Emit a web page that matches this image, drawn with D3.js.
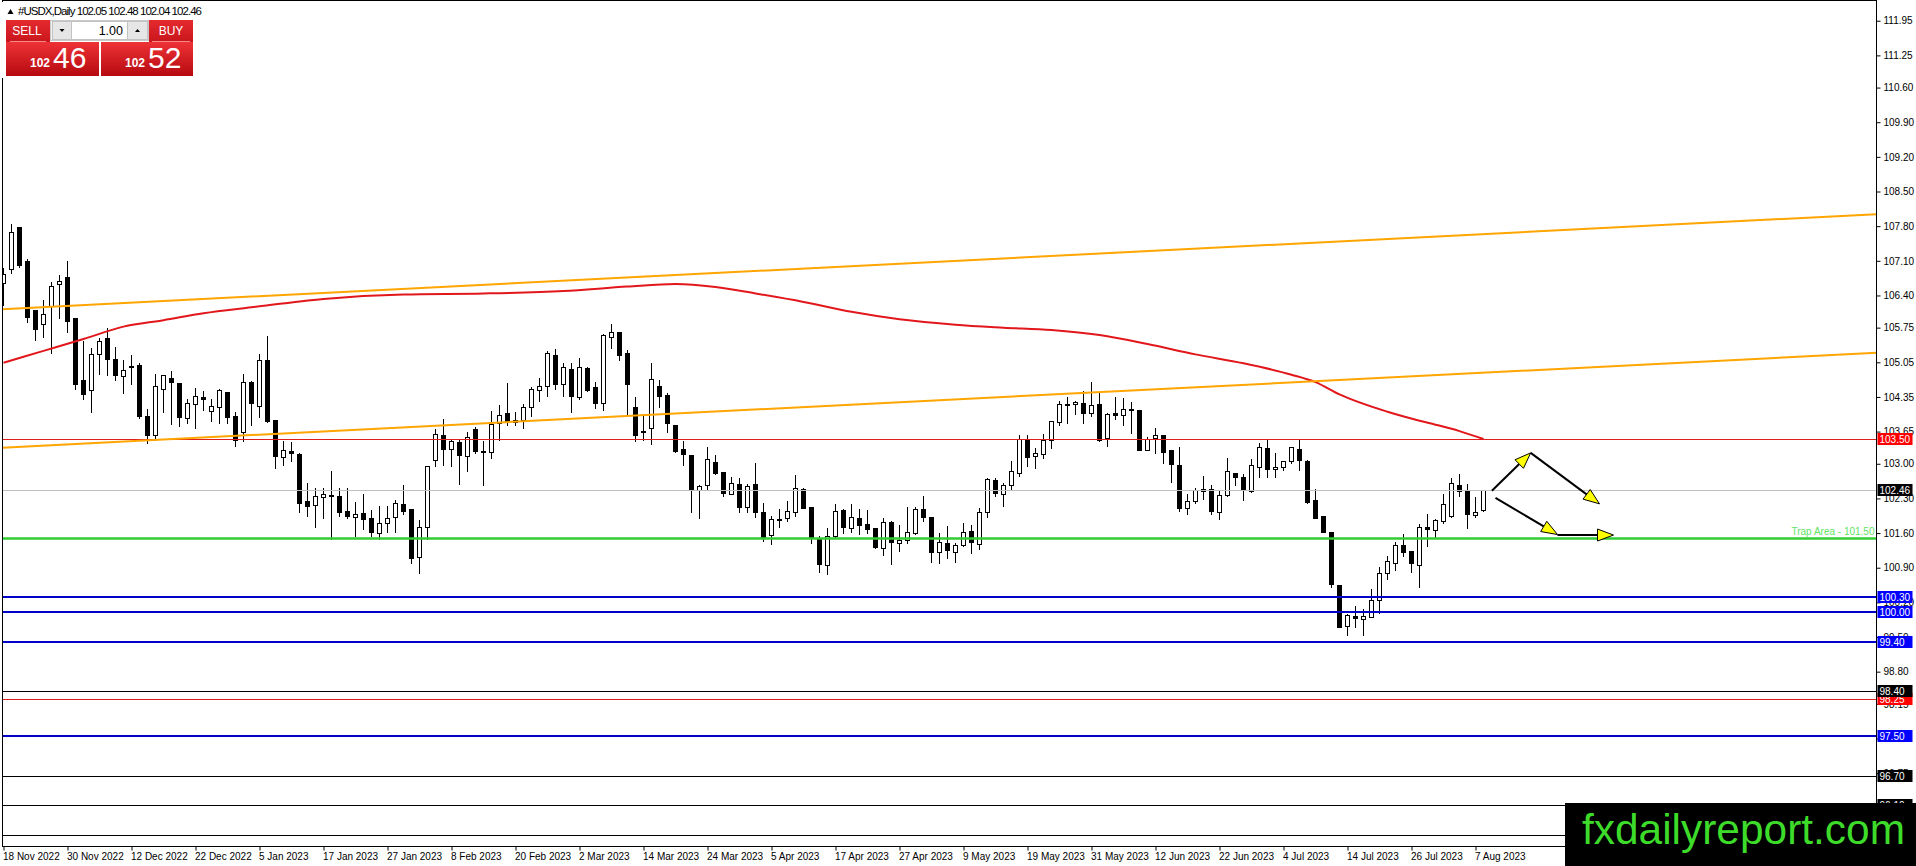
<!DOCTYPE html>
<html lang="en">
<head>
<meta charset="UTF-8">
<title>#USDX,Daily</title>
<script src="https://d3js.org/d3.v7.min.js"></script>
<style>
  body { margin: 0; background: #fff; overflow: hidden; }
  svg { display: block; font-family: "Liberation Sans", Arial, sans-serif; }
  .axis text { font-size: 10px; fill: #000; }
  .axis line, .axis path { stroke: #000; }
  .tag text { font-size: 10px; fill: #fff; }
</style>
</head>
<body>
<svg id="chart" width="1916" height="866"></svg>
<script>
// daily bars, [open, high, low, close], first bar = 18 Nov 2022
const ohlc = [
  [106.65,106.98,106.21,106.83],[106.93,107.86,106.85,107.68],[107.79,107.80,106.98,107.02],[107.10,107.15,105.87,105.97],
  [106.11,106.12,105.51,105.72],[105.82,106.32,105.57,106.02],[106.19,106.69,105.23,106.59],[106.62,106.83,105.95,106.69],
  [106.77,107.12,105.67,105.89],[105.94,105.95,104.52,104.60],[104.69,105.50,104.30,104.40],[104.48,105.35,104.04,105.21],
  [105.23,105.57,104.81,105.49],[105.54,105.76,104.79,105.11],[105.11,105.37,104.69,104.79],[104.77,105.11,104.42,104.89],
  [104.97,105.21,104.62,104.98],[104.99,105.06,103.92,103.95],[103.96,104.13,103.41,103.57],[103.59,104.84,103.48,104.57],
  [104.52,104.81,104.04,104.80],[104.73,104.89,103.80,104.65],[104.63,104.64,103.76,103.94],[103.92,104.32,103.82,104.22],
  [104.20,104.56,103.72,104.36],[104.34,104.50,104.09,104.30],[104.07,104.32,103.86,104.17],[104.14,104.54,103.82,104.49],
  [104.44,104.45,103.82,103.94],[103.96,104.07,103.36,103.47],[103.63,104.83,103.45,104.65],[104.65,104.69,103.78,104.22],
  [104.17,105.23,103.95,105.10],[105.10,105.60,103.85,103.87],[103.88,103.90,102.91,103.16],[103.14,103.47,102.98,103.28],
  [103.25,103.45,103.06,103.21],[103.20,103.24,102.03,102.21],[102.24,102.63,101.94,102.13],[102.16,102.54,101.73,102.35],
  [102.32,102.54,101.91,102.38],[102.37,102.87,101.49,102.34],[102.35,102.54,101.95,102.03],[102.05,102.54,101.91,101.95],
  [101.92,102.25,101.55,101.99],[102.01,102.40,101.68,101.88],[101.90,102.08,101.55,101.61],[101.59,102.16,101.47,101.80],
  [101.80,102.16,101.63,101.90],[101.92,102.28,101.63,102.21],[102.19,102.59,101.99,102.05],[102.08,102.09,101.00,101.10],
  [101.11,101.88,100.79,101.72],[101.72,102.98,101.49,102.96],[103.08,103.73,102.96,103.61],[103.59,103.92,102.98,103.31],
  [103.29,103.51,102.96,103.46],[103.43,103.51,102.60,103.16],[103.16,103.66,102.86,103.55],[103.70,103.76,103.21,103.26],
  [103.25,103.48,102.57,103.22],[103.23,104.09,103.12,103.80],[103.82,104.21,103.49,103.98],[104.02,104.66,103.78,103.85],
  [103.88,104.07,103.78,103.84],[103.88,104.23,103.73,104.15],[104.14,104.57,103.97,104.51],[104.49,104.75,104.27,104.58],
  [104.57,105.30,104.37,105.23],[105.20,105.33,104.51,104.61],[104.60,105.05,104.37,104.95],[104.91,105.05,104.05,104.36],
  [104.34,105.15,104.31,104.95],[104.93,104.98,104.46,104.49],[104.56,104.67,104.12,104.23],[104.23,105.64,104.09,105.60],
  [105.57,105.84,105.33,105.67],[105.66,105.67,105.10,105.20],[105.23,105.31,103.99,104.60],[104.15,104.36,103.45,103.58],
  [103.66,104.02,103.48,103.63],[103.72,105.06,103.40,104.71],[104.58,104.71,104.15,104.38],[104.39,104.44,103.65,103.82],
  [103.78,103.79,103.24,103.26],[103.29,103.48,102.98,103.19],[103.18,103.18,102.03,102.50],[102.47,102.60,101.90,102.56],
  [102.56,103.35,102.47,103.09],[103.03,103.19,102.80,102.81],[102.83,102.83,102.34,102.40],[102.40,102.76,102.38,102.62],
  [102.60,102.74,102.03,102.13],[102.13,102.62,102.03,102.56],[102.60,103.04,101.93,102.03],[102.02,102.23,101.43,101.51],
  [101.55,101.97,101.38,101.88],[101.88,102.10,101.73,101.85],[101.90,102.27,101.85,102.05],[102.03,102.79,101.95,102.52],
  [102.50,102.54,102.10,102.12],[102.12,102.12,101.39,101.51],[101.48,101.56,100.82,100.97],[100.97,101.73,100.77,101.55],
  [101.55,102.20,101.53,102.05],[102.07,102.11,101.61,101.72],[101.70,102.20,101.63,101.92],[101.90,102.11,101.59,101.75],
  [101.78,102.08,101.61,101.68],[101.70,101.72,101.29,101.31],[101.29,101.93,101.16,101.82],[101.82,101.86,100.97,101.41],
  [101.39,101.78,101.24,101.45],[101.46,102.15,101.39,101.63],[101.61,102.15,101.59,102.09],[102.09,102.37,101.85,101.92],
  [101.92,101.93,101.02,101.22],[101.21,101.62,100.99,101.42],[101.39,101.76,101.09,101.24],[101.22,101.41,101.01,101.36],
  [101.35,101.82,101.33,101.62],[101.64,101.78,101.19,101.41],[101.39,102.13,101.27,102.03],[102.03,102.73,101.92,102.69],
  [102.67,102.73,102.34,102.40],[102.40,102.64,102.15,102.58],[102.56,103.08,102.49,102.85],[102.82,103.60,102.76,103.51],
  [103.51,103.60,102.96,103.14],[103.14,103.33,102.92,103.21],[103.21,103.63,103.12,103.49],[103.49,103.88,103.31,103.87],
  [103.85,104.29,103.78,104.21],[104.21,104.37,103.82,104.18],[104.20,104.29,104.00,104.25],[104.23,104.50,103.83,104.02],
  [104.02,104.68,103.97,104.19],[104.21,104.48,103.46,103.49],[103.53,104.05,103.35,104.01],[104.03,104.37,103.90,103.99],
  [103.97,104.34,103.78,104.10],[104.10,104.27,103.63,104.09],[104.09,104.11,103.27,103.28],[103.28,103.56,103.27,103.51],
  [103.53,103.74,103.21,103.59],[103.59,103.60,103.01,103.24],[103.28,103.28,102.63,102.99],[102.98,103.36,102.05,102.12],
  [102.10,102.40,101.98,102.25],[102.25,102.54,102.21,102.47],[102.45,102.77,102.28,102.50],[102.50,102.60,101.99,102.06],
  [102.03,102.46,101.88,102.37],[102.37,103.14,102.34,102.85],[102.82,102.83,102.57,102.74],[102.74,102.81,102.27,102.47],
  [102.45,103.11,102.42,102.98],[102.92,103.43,102.74,103.33],[103.31,103.51,102.73,102.89],[102.89,103.23,102.73,102.94],
  [102.93,103.07,102.87,103.06],[103.04,103.36,103.01,103.33],[103.29,103.53,102.87,103.06],[103.05,103.09,102.20,102.23],
  [102.27,102.52,101.90,101.91],[101.95,101.96,101.62,101.63],[101.62,101.64,100.52,100.56],[100.55,100.58,99.70,99.71],
  [99.73,99.99,99.54,99.95],[99.92,100.15,99.71,99.88],[99.86,100.08,99.54,99.92],[99.91,100.50,99.90,100.25],
  [100.26,100.94,99.99,100.80],[100.79,101.16,100.67,101.04],[101.00,101.43,100.85,101.36],[101.36,101.61,101.14,101.22],
  [101.24,101.24,100.82,100.99],[100.97,101.81,100.52,101.73],[101.72,102.00,101.33,101.68],[101.66,101.90,101.53,101.86],
  [101.83,102.40,101.81,102.18],[101.95,102.74,101.93,102.61],[102.58,102.82,102.35,102.45],[102.45,102.61,101.71,101.98],
  [101.97,102.34,101.93,102.03],[102.05,102.48,102.04,102.46]
];

// one date label every 8 bars
const dateLabels = ["18 Nov 2022","30 Nov 2022","12 Dec 2022","22 Dec 2022","5 Jan 2023","17 Jan 2023","27 Jan 2023",
  "8 Feb 2023","20 Feb 2023","2 Mar 2023","14 Mar 2023","24 Mar 2023","5 Apr 2023","17 Apr 2023","27 Apr 2023",
  "9 May 2023","19 May 2023","31 May 2023","12 Jun 2023","22 Jun 2023","4 Jul 2023","14 Jul 2023","26 Jul 2023","7 Aug 2023"];
const barsPerLabel = 8;

const priceTicks = [111.95,111.25,110.60,109.90,109.20,108.50,107.80,107.10,106.40,105.75,105.05,104.35,103.65,
  103.00,102.30,101.60,100.90,100.20,99.50,98.80,98.15,97.45,96.75,96.10];
const priceRange = [95.278, 112.369];

// moving average, [bar, value]
const maPoints = [[0,105.04],[5,105.28],[10,105.52],[15,105.77],[20,105.90],[25,106.04],[31,106.16],[40,106.33],
  [50,106.42],[60,106.44],[70,106.49],[78,106.58],[84,106.63],[89,106.57],[94,106.44],[100,106.27],[106,106.07],
  [112,105.92],[119,105.81],[125,105.75],[131,105.70],[137,105.60],[143,105.42],[149,105.21],[155,105.03],
  [161,104.80],[164,104.65],[167,104.40],[173,104.05],[177,103.87],[179,103.79],[182,103.66],[185,103.50]];

// channel lines, two anchor points [bar, price]
const upperTrend = [[0,106.125],[185,107.64]];
const lowerTrend = [[0,103.326],[185,104.84]];

const redLevels = [103.50, 98.25];
const blueLevels = [100.30, 100.00, 99.40, 97.50];
const blackLevels = [98.40, 96.70, 96.10, 95.50];
const trapLevel = 101.50;
const trapText = "Trap Area - 101.50";
const bidPrice = 102.46;
const askPrice = 102.52;
const lotSize = "1.00";
const symbolName = "#USDX,Daily";

// projection arrows, [bar, price] from -> to
const arrows = [
  [[186.05,102.456],[190.9,103.22]],
  [[190.9,103.22],[199.5,102.19]],
  [[186.5,102.31],[194.25,101.57]],
  [[194.25,101.56],[201.25,101.56]]
];

const watermark = "fxdailyreport.com";

// ---------------------------------------------------------------
const W = 1916, H = 866;
const plot = {left: 2.5, top: 0.5, right: 1876.5, bottom: 846.5};
const barStep = 8;

const svg = d3.select("#chart");

const x = d3.scaleLinear()
  .domain([0, ohlc.length - 1])
  .range([3.5, 3.5 + barStep * (ohlc.length - 1)]);
const y = d3.scaleLinear().domain(priceRange).range([846, 0]);

svg.append("rect").attr("width", W).attr("height", H).attr("fill", "#fff");

svg.append("defs").append("clipPath").attr("id", "plotClip")
  .append("rect")
  .attr("x", plot.left).attr("y", plot.top)
  .attr("width", plot.right - plot.left).attr("height", plot.bottom - plot.top);

const g = svg.append("g").attr("clip-path", "url(#plotClip)");

// candles
const bars = g.append("g").attr("shape-rendering", "crispEdges");
bars.selectAll("line")
  .data(ohlc)
  .join("line")
  .attr("x1", (d, i) => x(i)).attr("x2", (d, i) => x(i))
  .attr("y1", d => Math.round(y(d[1])) + 0.5)
  .attr("y2", d => Math.round(y(d[2])) + 0.5)
  .attr("stroke", "#000");

bars.selectAll("rect")
  .data(ohlc)
  .join("rect")
  .attr("x", (d, i) => x(i) - 2)
  .attr("width", 4)
  .attr("y", d => Math.round(y(Math.max(d[0], d[3]))) + 0.5)
  .attr("height", d => Math.max(1, Math.round(Math.abs(y(d[0]) - y(d[3])))))
  .attr("fill", d => d[3] >= d[0] ? "#fff" : "#000")
  .attr("stroke", "#000");

// horizontal levels
function hLine(price, color, width) {
  const yy = Math.round(y(price)) + (width % 2 ? 0.5 : 0);
  g.append("line")
    .attr("x1", plot.left).attr("x2", plot.right)
    .attr("y1", yy).attr("y2", yy)
    .attr("stroke", color).attr("stroke-width", width);
}
hLine(bidPrice, "#c0c0c0", 1);
blackLevels.forEach(p => hLine(p, "#000", 1));
redLevels.forEach(p => hLine(p, "#e01e1e", 1));
blueLevels.forEach(p => hLine(p, "#0000c8", 2));
hLine(trapLevel, "#32cd32", 2.5);

// moving average
g.append("path")
  .datum(maPoints)
  .attr("fill", "none")
  .attr("stroke", "#e2171b")
  .attr("stroke-width", 2)
  .attr("d", d3.line().x(d => x(d[0])).y(d => y(d[1])).curve(d3.curveMonotoneX));

// trend lines extended across the plot
function trend(pts, color) {
  const [a, b] = pts;
  const slope = (b[1] - a[1]) / (b[0] - a[0]);
  const i0 = x.invert(plot.left), i1 = x.invert(plot.right);
  g.append("line")
    .attr("x1", x(i0)).attr("y1", y(a[1] + (i0 - a[0]) * slope))
    .attr("x2", x(i1)).attr("y2", y(a[1] + (i1 - a[0]) * slope))
    .attr("stroke", color).attr("stroke-width", 2);
}
trend(upperTrend, "#ffa500");
trend(lowerTrend, "#ffa500");

// arrows
const ah = g.append("g");
arrows.forEach(([p0, p1]) => {
  const x0 = x(p0[0]), y0 = y(p0[1]), x1 = x(p1[0]), y1 = y(p1[1]);
  const ang = Math.atan2(y1 - y0, x1 - x0);
  const len = 16, half = 6;
  const bx = x1 - len * Math.cos(ang), by = y1 - len * Math.sin(ang);
  ah.append("line")
    .attr("x1", x0).attr("y1", y0).attr("x2", bx).attr("y2", by)
    .attr("stroke", "#000").attr("stroke-width", 2);
  const pts = [
    [x1, y1],
    [bx + half * Math.sin(ang), by - half * Math.cos(ang)],
    [bx - half * Math.sin(ang), by + half * Math.cos(ang)]
  ];
  ah.append("polygon")
    .attr("points", pts.map(p => p.join(",")).join(" "))
    .attr("fill", "#ffff00").attr("stroke", "#000").attr("stroke-width", 1);
});

// trap area text
g.append("text")
  .attr("x", plot.right - 2)
  .attr("y", y(trapLevel) - 3)
  .attr("text-anchor", "end")
  .attr("font-size", 10)
  .attr("fill", "#5fe35f")
  .text(trapText);

// frame
svg.append("rect")
  .attr("x", plot.left).attr("y", plot.top)
  .attr("width", plot.right - plot.left).attr("height", plot.bottom - plot.top)
  .attr("fill", "none").attr("stroke", "#000");

// price axis
const yAxis = d3.axisRight(y)
  .tickValues(priceTicks)
  .tickSize(4)
  .tickPadding(3)
  .tickFormat(d3.format(".2f"));
svg.append("g")
  .attr("class", "axis")
  .attr("transform", `translate(${plot.right},0)`)
  .call(yAxis)
  .call(s => s.select(".domain").remove());

// date axis
const xAxis = d3.axisBottom(x)
  .tickValues(dateLabels.map((d, i) => i * barsPerLabel))
  .tickSize(4)
  .tickPadding(2)
  .tickFormat((d, i) => dateLabels[i]);
svg.append("g")
  .attr("class", "axis")
  .attr("transform", `translate(0,${plot.bottom})`)
  .call(xAxis)
  .call(s => s.select(".domain").remove())
  .call(s => s.selectAll("text").attr("text-anchor", "start").attr("x", -1));

// price tags on the axis
function tag(price, color) {
  const t = svg.append("g").attr("class", "tag")
    .attr("transform", `translate(${plot.right + 1},${Math.round(y(price))})`);
  t.append("rect").attr("x", 0).attr("y", -6).attr("width", 35).attr("height", 12).attr("fill", color);
  t.append("text").attr("x", 2).attr("y", 4).text(d3.format(".2f")(price));
}
tag(96.10, "#000");
tag(96.70, "#000");
blueLevels.forEach(p => tag(p, "#0000ff"));
tag(redLevels[1], "#ff0000");
tag(blackLevels[0], "#000");
tag(bidPrice, "#000");
tag(redLevels[0], "#ff0000");

// header + one click panel
const panel = svg.append("g");
panel.append("rect").attr("x", 0).attr("y", 2).attr("width", 197).attr("height", 76).attr("fill", "#fff");
panel.append("polygon").attr("points", "7.5,14 13.5,14 10.5,9").attr("fill", "#000");
panel.append("text")
  .attr("x", 18).attr("y", 15)
  .attr("font-size", 11.5)
  .attr("textLength", 184)
  .text(symbolName + "  " + ohlc[ohlc.length - 1].map(v => v.toFixed(2)).join(" "));

const defs = svg.select("defs");
const grad = defs.append("linearGradient").attr("id", "redGrad").attr("x1", 0).attr("y1", 0).attr("x2", 0).attr("y2", 1);
grad.append("stop").attr("offset", "0%").attr("stop-color", "#ee3236");
grad.append("stop").attr("offset", "100%").attr("stop-color", "#b50a10");
const grad2 = defs.append("linearGradient").attr("id", "btnGrad").attr("x1", 0).attr("y1", 0).attr("x2", 0).attr("y2", 1);
grad2.append("stop").attr("offset", "0%").attr("stop-color", "#e52a2f");
grad2.append("stop").attr("offset", "100%").attr("stop-color", "#c8161c");

panel.append("rect").attr("x", 6).attr("y", 20).attr("width", 44).attr("height", 22).attr("fill", "url(#btnGrad)");
panel.append("rect").attr("x", 149).attr("y", 20).attr("width", 44).attr("height", 22).attr("fill", "url(#btnGrad)");
panel.append("line").attr("x1", 10).attr("x2", 46).attr("y1", 41.5).attr("y2", 41.5).attr("stroke", "#f28a8a");
panel.append("line").attr("x1", 152).attr("x2", 190).attr("y1", 41.5).attr("y2", 41.5).attr("stroke", "#f28a8a");
panel.append("text").attr("x", 27).attr("y", 35).attr("text-anchor", "middle").attr("font-size", 12).attr("fill", "#fff").text("SELL");
panel.append("text").attr("x", 171).attr("y", 35).attr("text-anchor", "middle").attr("font-size", 12).attr("fill", "#fff").text("BUY");

panel.append("rect").attr("x", 50.5).attr("y", 20.5).attr("width", 98).attr("height", 20).attr("fill", "#f2f2f2").attr("stroke", "#c9c9c9");
panel.append("rect").attr("x", 52.5).attr("y", 21.5).attr("width", 19).attr("height", 18).attr("fill", "#e6e6e6").attr("stroke", "#c2c2c2");
panel.append("rect").attr("x", 71.5).attr("y", 21.5).attr("width", 56).attr("height", 18).attr("fill", "#fff").attr("stroke", "#c2c2c2");
panel.append("rect").attr("x", 127.5).attr("y", 21.5).attr("width", 20).attr("height", 18).attr("fill", "#e6e6e6").attr("stroke", "#c2c2c2");
panel.append("polygon").attr("points", "59.5,29 64.5,29 62,32").attr("fill", "#000");
panel.append("polygon").attr("points", "135,32 140,32 137.5,29").attr("fill", "#000");
panel.append("text").attr("x", 123).attr("y", 35).attr("text-anchor", "end").attr("font-size", 12.5).attr("fill", "#000").text(lotSize);

function priceBox(x0, w, price, bigX) {
  panel.append("rect").attr("x", x0).attr("y", 42).attr("width", w).attr("height", 34).attr("fill", "url(#redGrad)");
  const s = price.toFixed(2).split(".");
  panel.append("text").attr("x", bigX - 3).attr("y", 67).attr("text-anchor", "end")
    .attr("font-size", 12).attr("font-weight", "bold").attr("fill", "#fff").text(s[0]);
  panel.append("text").attr("x", bigX).attr("y", 68)
    .attr("font-size", 30).attr("fill", "#fff").text(s[1]);
}
priceBox(6, 93, bidPrice, 53);
priceBox(101, 92, askPrice, 148);

// watermark
svg.append("rect").attr("x", 1565).attr("y", 803).attr("width", W - 1565).attr("height", H - 803).attr("fill", "#000");
svg.append("text")
  .attr("x", 1582).attr("y", 844)
  .attr("font-size", 42)
  .attr("fill", "#3edc2a")
  .attr("textLength", 323)
  .attr("lengthAdjust", "spacingAndGlyphs")
  .text(watermark);
</script>
</body>
</html>
